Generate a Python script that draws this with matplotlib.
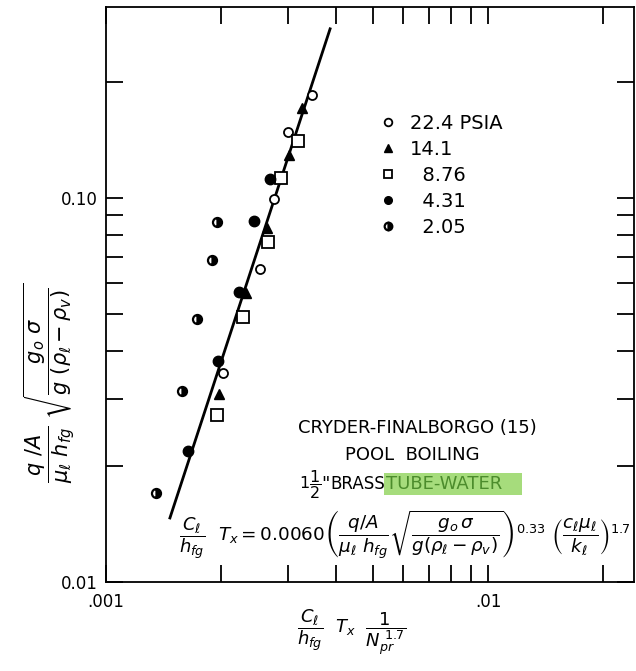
import numpy as np
import matplotlib as mpl
mpl.use('Agg')
import matplotlib.pyplot as plt

plt.rcParams['font.family'] = ['DejaVu Sans']
plt.rcParams['mathtext.fontset'] = 'dejavusans'

# data (x = Cl/hfg Tx / Npr^1.7, y = q/A ... group)
p224_x = [3.46e-3, 2.99e-3, 2.75e-3, 2.53e-3, 2.02e-3]
p224_y = [0.1855, 0.1485, 0.0994, 0.0653, 0.0350]
p141_x = [3.26e-3, 3.01e-3, 2.64e-3, 2.32e-3, 1.98e-3]
p141_y = [0.1715, 0.1294, 0.0835, 0.0566, 0.0309]
p876_x = [3.18e-3, 2.87e-3, 2.66e-3, 2.28e-3, 1.95e-3]
p876_y = [0.1407, 0.1127, 0.0768, 0.0490, 0.0272]
p431_x = [2.69e-3, 2.44e-3, 2.23e-3, 1.96e-3, 1.64e-3]
p431_y = [0.1120, 0.0871, 0.0569, 0.0376, 0.0219]
p205_x = [1.95e-3, 1.89e-3, 1.73e-3, 1.58e-3, 1.35e-3]
p205_y = [0.0866, 0.0690, 0.0484, 0.0315, 0.0171]

line_x = [1.47e-3, 3.86e-3]
line_y = [0.01468, 0.2755]

labels = ["22.4 PSIA", "14.1", "\u20078.76", "\u20074.31", "\u20072.05"]

W, H = 636, 671
fig = plt.figure(figsize=(W / 100, H / 100), dpi=100)
ax = fig.add_axes([106 / W, 1 - 582 / H, (634 - 106) / W, (582 - 7) / H])

ax.plot(line_x, line_y, color='black', lw=2, zorder=1)

ms = 6.5
h1, = ax.plot(p224_x, p224_y, 'o', ls='none', mfc='white', mec='black', mew=1.3, ms=ms)
h2, = ax.plot(p141_x, p141_y, '^', ls='none', mfc='black', mec='black', ms=ms + 1)
h3, = ax.plot(p876_x, p876_y, 's', ls='none', mfc='white', mec='black', mew=1.3, ms=ms + 1.5)
h4, = ax.plot(p431_x, p431_y, 'o', ls='none', mfc='black', mec='black', ms=ms + 1)
h5, = ax.plot(p205_x, p205_y, 'o', ls='none', mfc='black', mec='black', mew=1.6,
              fillstyle='right', markerfacecoloralt='white', ms=ms)

ax.set_xscale('log')
ax.set_yscale('log')
ax.set_xlim(1e-3, 0.0241)
ax.set_ylim(0.01, 0.314)

ax.set_xticks([1e-3, 1e-2])
ax.set_xticklabels(['.001', '.01'])
ax.set_xticks([2e-3, 3e-3, 4e-3, 5e-3, 6e-3, 7e-3, 8e-3, 9e-3, 2e-2], minor=True)
ax.set_xticklabels([], minor=True)
ax.set_yticks([0.01, 0.1])
ax.set_yticklabels(['0.01', '0.10'])
ax.set_yticks([0.02, 0.03, 0.04, 0.05, 0.06, 0.07, 0.08, 0.09, 0.2], minor=True)
ax.set_yticklabels([], minor=True)
ax.tick_params(which='both', direction='in', top=True, right=True,
               length=12, width=1.3, labelsize=12)
ax.tick_params(axis='x', pad=8)
ax.tick_params(axis='y', pad=6)
for s in ax.spines.values():
    s.set_linewidth(1.3)

leg = ax.legend([h1, h2, h3, h4, h5], labels, loc='upper left',
                bbox_to_anchor=(378 / W, 1 - 114 / H), bbox_transform=fig.transFigure,
                frameon=False, fontsize=14, handlelength=1.0, handletextpad=0.65,
                labelspacing=0.36, borderpad=0, borderaxespad=0)
for lh in leg.legend_handles:
    lh.set_markersize(5.5)

# annotations
fig.text(298 / W, 1 - 428 / H, "CRYDER-FINALBORGO (15)", fontsize=13, va='center')
fig.text(412 / W, 1 - 455 / H, "POOL  BOILING", fontsize=13, va='center', ha='center')
fig.text(299 / W, 1 - 485 / H, r'$1\dfrac{1}{2}$', fontsize=11.5, va='center')
fig.text(321 / W, 1 - 484 / H, '"', fontsize=13, va='center')
fig.text(330 / W, 1 - 484 / H, "BRASS", fontsize=12, va='center')
fig.text(386 / W, 1 - 484 / H, "TUBE-WATER   ", fontsize=13, va='center', color='#4c8c2c',
         bbox=dict(boxstyle='square,pad=0.12', fc='#a6dc7c', ec='none'))
fig.text(192 / W, 1 - 538 / H, r"$\dfrac{C_\ell}{h_{fg}}$", fontsize=13, va='center', ha='center')
fig.text(218 / W, 1 - 535 / H,
         r"$T_x = 0.0060\left(\dfrac{q/A}{\mu_\ell\ h_{fg}}\sqrt{\dfrac{g_o\,\sigma}{g(\rho_\ell-\rho_v)}}\right)^{0.33}\ \left(\dfrac{c_\ell\mu_\ell}{k_\ell}\right)^{1.7}$",
         fontsize=13.2, va='center')

fig.text(352 / W, 1 - 632 / H,
         r"$\dfrac{C_\ell}{h_{fg}}\ \ T_x\ \ \dfrac{1}{N_{pr}^{\ 1.7}}$",
         fontsize=13, va='center', ha='center')
fig.text(50 / W, 1 - 383 / H,
         r"$\dfrac{q\ /A}{\mu_\ell\ h_{fg}}\ \sqrt{\dfrac{g_o\ \sigma}{g\ (\rho_\ell-\rho_v)}}$",
         fontsize=15, va='center', ha='center', rotation=90)

fig.savefig('out.png', dpi=100)
